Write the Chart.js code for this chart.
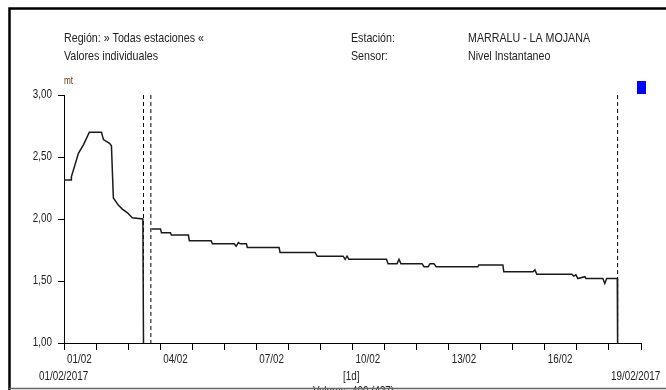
<!DOCTYPE html>
<html>
<head>
<meta charset="utf-8">
<title>MARRALU - LA MOJANA</title>
<script src="https://cdn.jsdelivr.net/npm/chart.js@4.4.1/dist/chart.umd.min.js"></script>
<style>
  html, body { margin: 0; padding: 0; background: #fff; }
  #wrap { width: 666px; height: 390px; position: relative; }
</style>
</head>
<body>
<div id="wrap"><canvas id="nivelChart" width="666" height="390"></canvas></div>
<script>
'use strict';

/* ── DATA (days since 01/02/2017 00:00, level in mt) ── */
const dayOffsets = [
  0.00, 0.22, 0.23, 0.45, 0.61, 0.79, 1.17, 1.23, 1.42, 1.48,
  1.54, 1.70, 1.82, 1.98, 2.13, 2.46, 2.48, 2.60,
  2.73, 3.01, 3.04, 3.32, 3.35, 3.88, 3.91, 4.59, 4.63, 5.31,
  5.37, 5.44, 5.50, 5.69, 5.72, 6.71, 6.74, 7.83, 7.90, 8.71,
  8.77, 8.83, 8.89, 10.06, 10.11, 10.39, 10.45, 10.51, 11.17, 11.23,
  11.36, 11.42, 11.54, 11.61, 12.91, 12.94, 13.69, 13.72, 14.63, 14.69,
  14.75, 15.84, 15.90, 15.97, 16.03, 16.25, 16.28, 16.81, 16.87, 16.93,
  17.26, 17.27
];
const levels = [
  2.315, 2.315, 2.34, 2.53, 2.60, 2.70, 2.70, 2.64, 2.61, 2.59,
  2.17, 2.11, 2.08, 2.05, 2.01, 2.00, 1.00, null,
  1.92, 1.92, 1.89, 1.89, 1.87, 1.87, 1.825, 1.825, 1.80, 1.80,
  1.78, 1.81, 1.80, 1.80, 1.77, 1.77, 1.73, 1.73, 1.70, 1.70,
  1.675, 1.70, 1.675, 1.675, 1.64, 1.64, 1.675, 1.64, 1.64, 1.615,
  1.615, 1.64, 1.64, 1.615, 1.615, 1.63, 1.63, 1.575, 1.575, 1.59,
  1.555, 1.555, 1.54, 1.55, 1.52, 1.535, 1.52, 1.52, 1.48, 1.52,
  1.52, 1.00
];
// gap / end-of-data markers (days)
const markerDays = [2.48, 2.71, 17.27];

const yTicks = [1.0, 1.5, 2.0, 2.5, 3.0];
const labelEvery = 3;
const totalDays = 18;

const header = {
  region: 'Región: » Todas estaciones «',
  tipo: 'Valores individuales',
  estacionLbl: 'Estación:',
  estacion: 'MARRALU - LA MOJANA',
  sensorLbl: 'Sensor:',
  sensor: 'Nivel Instantaneo',
  unit: 'mt',
  start: '01/02/2017',
  end: '19/02/2017',
  step: '[1d]'
};

// Arial Narrow look-alike: Liberation Sans squeezed horizontally
const FONT = "'Liberation Sans', Arial, sans-serif";
const NARROW = 0.82;

/* ── build datasets ── */
const seriesPoints = dayOffsets.map((d, i) => ({ x: d, y: levels[i] }));

const markerSets = markerDays.map(d => ({
  data: [{ x: d, y: 3 }, { x: d, y: 1 }],
  borderColor: '#000',
  borderWidth: 1,
  borderDash: [4, 3],
  pointRadius: 0,
  fill: false,
}));

function two(n) { return String(n).padStart(2, '0'); }

function narrowText(c, text, x, y, size, align, color) {
  c.save();
  c.font = size + 'px ' + FONT;
  c.fillStyle = color || '#222';
  c.textAlign = align || 'left';
  c.textBaseline = 'middle';
  c.translate(x, y);
  c.scale(NARROW, 1);
  c.fillText(text, 0, 0);
  c.restore();
}

/* ── frame, axis labels + header texts ── */
const framePlugin = {
  id: 'frame',
  beforeDraw(chart) {
    const c = chart.ctx;
    c.save();
    c.fillStyle = '#fff';
    c.fillRect(0, 0, chart.width, chart.height);
    c.restore();
  },
  afterDraw(chart) {
    const c = chart.ctx;
    const area = chart.chartArea;
    const xs = chart.scales.x;
    const ys = chart.scales.y;

    // tick labels
    for (let d = 0; d < totalDays; d += labelEvery) {
      narrowText(c, two(d + 1) + '/02', xs.getPixelForValue(d) + 3, 360, 12);
    }
    yTicks.forEach(v => {
      narrowText(c, v.toFixed(2).replace('.', ','), area.left - 12, ys.getPixelForValue(v), 12, 'right');
    });

    // header
    narrowText(c, header.region, 64, 38, 13);
    narrowText(c, header.tipo, 64, 56, 13);
    narrowText(c, header.estacionLbl, 351, 38, 13);
    narrowText(c, header.estacion, 468, 38, 13);
    narrowText(c, header.sensorLbl, 351, 56, 13);
    narrowText(c, header.sensor, 468, 56, 13);
    narrowText(c, header.unit, area.left, 81, 10, 'left', '#6b3d0a');

    // footer
    narrowText(c, header.start, 39, 377, 12);
    narrowText(c, header.step, 343, 377, 12);
    narrowText(c, header.end, 611, 377, 12);
    narrowText(c, 'Valores:', 313, 392, 12);
    narrowText(c, '400 (437)', 352, 392, 12);

    c.save();
    // blue legend box
    c.fillStyle = '#0000ff';
    c.fillRect(637, 81, 9, 13);

    // outer frame
    c.strokeStyle = '#000';
    c.lineWidth = 2.5;
    c.beginPath();
    c.moveTo(9.5, chart.height);
    c.lineTo(9.5, 8.5);
    c.lineTo(chart.width, 8.5);
    c.stroke();
    c.strokeStyle = '#666';
    c.lineWidth = 1.5;
    c.beginPath();
    c.moveTo(9, 388.5);
    c.lineTo(chart.width, 388.5);
    c.stroke();
    c.restore();
  }
};

/* ── chart ── */
new Chart(document.getElementById('nivelChart'), {
  type: 'line',
  data: {
    datasets: [
      {
        data: seriesPoints,
        borderColor: '#1a1a1a',
        borderWidth: 1.5,
        pointRadius: 0,
        tension: 0,
        spanGaps: false,
        fill: false,
      },
      ...markerSets,
    ],
  },
  options: {
    responsive: false,
    animation: false,
    events: [],
    layout: { padding: { left: 0, top: 95, right: 25, bottom: 0 } },
    plugins: {
      legend: { display: false },
      tooltip: { enabled: false },
    },
    scales: {
      x: {
        type: 'linear',
        min: 0,
        max: totalDays,
        afterFit(scale) { scale.height = 47; },
        afterBuildTicks(scale) {
          scale.ticks = Array.from({ length: totalDays + 1 }, (_, i) => ({ value: i }));
        },
        grid: {
          drawOnChartArea: false,
          drawTicks: true,
          tickLength: 7,
          color: '#000',
        },
        border: { display: true, color: '#000', width: 1 },
        ticks: { display: false },
      },
      y: {
        min: 1,
        max: 3,
        afterFit(scale) { scale.width = 64; },
        afterBuildTicks(scale) {
          scale.ticks = yTicks.map(v => ({ value: v }));
        },
        grid: {
          drawOnChartArea: false,
          drawTicks: true,
          tickLength: 6,
          color: '#000',
        },
        border: { display: true, color: '#000', width: 1 },
        ticks: { display: false },
      },
    },
  },
  plugins: [framePlugin],
});
</script>
</body>
</html>
